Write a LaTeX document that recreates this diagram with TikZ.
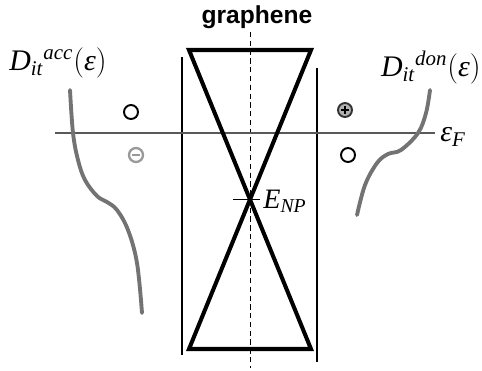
\documentclass[tikz,border=0pt]{standalone}
\usepackage{amsmath}
\usepackage{fontspec}
\setmainfont{Liberation Serif}
\newfontfamily\headfont{Liberation Sans}
\usetikzlibrary{positioning,calc}

\newcommand{\trapdos}[1]{$\textit{D}_{\textit{it}}{}^{\textit{#1}}(\textit{ε})$}

\begin{document}
\begin{tikzpicture}[
    x=0.02cm, y=-0.02cm,
    cone/.style={line width=2.3pt, line join=miter},
    wall/.style={line width=1.1pt},
    level/.style={line width=1.5pt, draw=black!65},
    dos/.style={line width=2.2pt, draw=black!55, line cap=round},
    state/.style={circle, draw, line width=1.1pt, minimum size=0.28cm, inner sep=0pt},
    lbl/.style={inner sep=0pt, font=\fontsize{17}{19}\selectfont}
]
\useasboundingbox (0,0) rectangle (482,370);

% title
\node[font=\headfont\bfseries\fontsize{14}{16}\selectfont, inner sep=0pt] (title) at (257,17) {graphene};

% coordinates
\coordinate (fl) at (55,133);
\coordinate (fr) at (435,133);
\coordinate (np) at (250,199.5);

% substrate walls and symmetry axis
\draw[wall] (182,57) -- (182,355);
\draw[wall] (317,68) -- (317,362);
\draw[densely dashed, line width=0.5pt] (250,32) -- (250,368);

% Fermi level
\draw[level] (fl) -- (fr);
\node[lbl, anchor=west] (ef) at (440,137) {$\textit{ε}_{\textit{F}}$};

% Dirac cones
\draw[cone] (189,50) -- (311,50) -- (189,349) -- (311,349) -- cycle;
\draw[line width=0.8pt] ($(np)+(-17,0)$) -- ($(np)+(10,0)$);
\node[lbl, font=\fontsize{16}{18}\selectfont, anchor=west] (enp) at ($(np)+(13,2)$) {$\textit{E}_{\textit{NP}}$};

% interface trap densities
\node[lbl, anchor=west] (dacc) at (9,63) {\trapdos{acc}};
\node[lbl, anchor=east] (ddon) at (481,68) {\trapdos{don}};

\draw[dos] plot[smooth, tension=0.6] coordinates {(70,90) (73,133) (78,160) (85,180) (97,196) (107,202) (117,210) (128,230) (137,263) (142,313)};
\draw[dos] plot[smooth, tension=0.6] coordinates {(430,90) (426,113) (418,133) (401,150) (388,154) (377,163) (365,185) (357,215)};

% trap states
\node[state] (h1) at (131,112) {};
\node[state, draw=black!40, line width=1.3pt] (e1) at (136,155) {};
\draw[black!40, line width=1.3pt] ($(e1)+(-4,0)$) -- ($(e1)+(4,0)$);
\node[state, fill=black!30, draw=black!80] (h2) at (345,110) {};
\draw[line width=1.1pt] ($(h2)+(-4,0)$) -- ($(h2)+(4,0)$) ($(h2)+(0,-4)$) -- ($(h2)+(0,4)$);
\node[state] (e2) at (348,155) {};
\end{tikzpicture}
\end{document}
